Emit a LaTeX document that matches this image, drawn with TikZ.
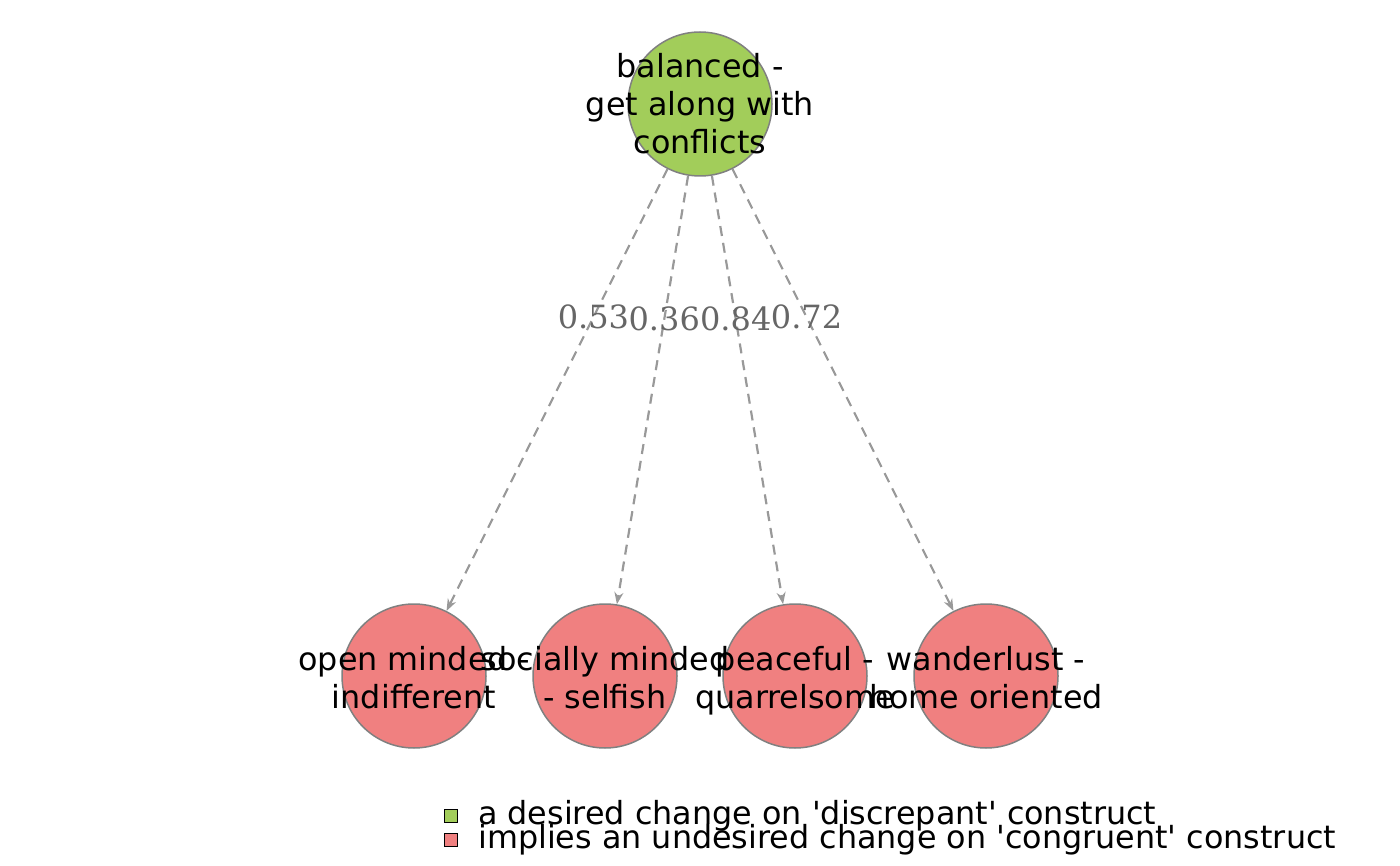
\documentclass[tikz,border=0pt]{standalone}
\usepackage{fontspec}
\setmainfont{DejaVu Sans}
\newfontfamily\edgefont{DejaVu Serif}
\usetikzlibrary{arrows.meta}
\definecolor{desired}{HTML}{A2CD5A}
\definecolor{undesired}{HTML}{F08080}
\definecolor{edgegray}{HTML}{999999}
\definecolor{labelgray}{HTML}{666666}

\tikzset{
  construct/.style={circle, draw=gray, line width=1.5pt, minimum size=144pt, inner sep=0pt},
  nodetext/.style={align=center, font=\fontsize{31.8}{38}\selectfont},
  implication/.style={draw=edgegray, line width=2.2pt, dash pattern=on 10pt off 7pt, -{Stealth[length=12pt,width=9pt]}},
  weight/.style={font=\edgefont\fontsize{32}{36}\selectfont, text=labelgray, pos=0.335},
  legendbox/.style={draw=black, line width=1.2pt, minimum size=13pt, inner sep=0pt}
}

\begin{document}
\begin{tikzpicture}[x=1pt, y=-1pt]
\useasboundingbox (0, 0) rectangle (1400, 866);

\node[construct, fill=desired] (balanced) at (700, 104) {};
\node[construct, fill=undesired] (open) at (414, 676) {};
\node[construct, fill=undesired] (social) at (605, 676) {};
\node[construct, fill=undesired] (peace) at (795, 676) {};
\node[construct, fill=undesired] (wander) at (986, 676) {};

\draw[implication] (balanced) -- node[weight]{0.53} (open);
\draw[implication] (balanced) -- node[weight]{0.36} (social);
\draw[implication] (balanced) -- node[weight]{0.84} (peace);
\draw[implication] (balanced) -- node[weight]{0.72} (wander);

\node[nodetext] at ([yshift=-4.4pt]balanced) {\strut balanced -\\get along with\\conflicts\strut};
\node[nodetext] at ([yshift=-6pt]open) {\strut open minded -\\indifferent\strut};
\node[nodetext] at ([yshift=-6pt]social) {\strut socially minded\\- selfish\strut};
\node[nodetext] at ([yshift=-6pt]peace) {\strut peaceful -\\quarrelsome\strut};
\node[nodetext] at ([yshift=-6pt]wander) {\strut wanderlust -\\home oriented\strut};

% legend
\node[legendbox, fill=desired] (keyone) at (451, 816) {};
\node[legendbox, fill=undesired] (keytwo) at (451, 840) {};
\node[nodetext, anchor=west, inner sep=0pt] at (478, 816) {a desired change on \textquotesingle discrepant\textquotesingle\ construct};
\node[nodetext, anchor=west, inner sep=0pt] at (478, 840) {implies an undesired change on \textquotesingle congruent\textquotesingle\ construct};
\end{tikzpicture}
\end{document}
